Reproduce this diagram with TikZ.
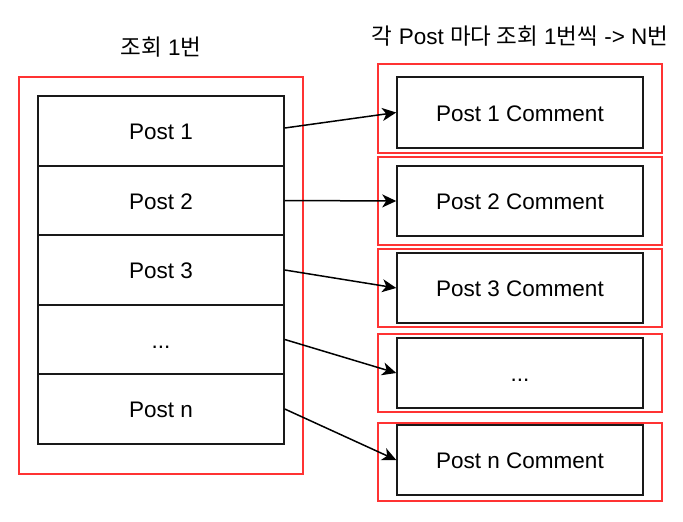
\documentclass[tikz,border=0pt]{standalone}
\usepackage{fontspec}
\setmainfont{Liberation Sans}
\newfontfamily\kr{Noto Sans CJK KR}
\usetikzlibrary{arrows.meta}
\definecolor{redline}{HTML}{FF3333}
\begin{document}
\begin{tikzpicture}[x=1pt,y=-1pt,
  every node/.style={font=\fontsize{22.5}{26}\selectfont},
  postrow/.style={draw=black!90,line width=1.5pt,rectangle,minimum width=246pt,minimum height=69.6pt,inner sep=0pt,text height=17pt,text depth=0pt},
  cbox/.style={draw=black!90,line width=1.5pt,rectangle,minimum width=246pt,minimum height=70pt,inner sep=0pt,text height=17pt,text depth=0pt},
  redframe/.style={draw=redline,line width=1.5pt,rectangle,inner sep=0pt,minimum width=284pt},
  conn/.style={line width=1.5pt,-{Stealth[length=14pt,width=13pt,inset=4pt]}},
  title/.style={inner sep=0pt}
]
\useasboundingbox (0,0) rectangle (683,522);
\fill[white] (0,0) rectangle (683,522);
% left frame
\node[redframe,minimum height=397pt] (lf) at (161,275.5) {};
\node[postrow] (p1) at (161,131) {Post 1};
\node[postrow] (p2) at (161,200.5) {Post 2};
\node[postrow] (p3) at (161,270) {Post 3};
\node[postrow] (p4) at (161,339.5) {...};
\node[postrow] (p5) at (161,409) {Post n};
% right frames
\node[redframe,minimum height=89pt] (r1) at (520,108.5) {};
\node[redframe,minimum height=88pt] (r2) at (520,201) {};
\node[redframe,minimum height=78pt] (r3) at (520,288) {};
\node[redframe,minimum height=78pt] (r4) at (520,373) {};
\node[redframe,minimum height=78pt] (r5) at (520,462) {};
\node[cbox,minimum height=71pt] (c1) at (520,112.5) {Post 1 Comment};
\node[cbox] (c2) at (520,201) {Post 2 Comment};
\node[cbox] (c3) at (520,288) {Post 3 Comment};
\node[cbox] (c4) at (520,373) {...};
\node[cbox] (c5) at (520,460) {Post n Comment};
% titles
\node[title] (t1) at (161,47) {{\kr 조회} 1{\kr 번}};
\node[title] (t2) at (520,36) {{\kr 각} Post {\kr 마다 조회} 1{\kr 번씩} -> N{\kr 번}};
% connectors
\draw[conn] ([yshift=3pt]p1.east) -- (c1.west);
\draw[conn] (p2.east) -- (c2.west);
\draw[conn] (p3.east) -- (c3.west);
\draw[conn] (p4.east) -- (c4.west);
\draw[conn] (p5.east) -- (c5.west);
\end{tikzpicture}
\end{document}
